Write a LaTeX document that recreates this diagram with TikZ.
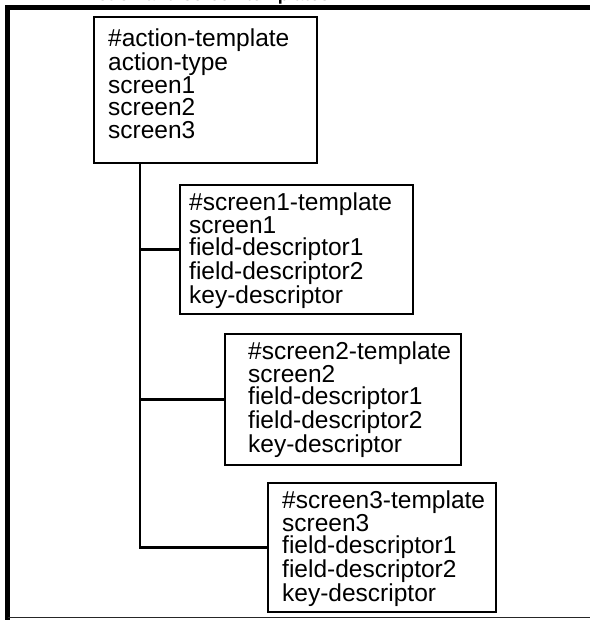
\documentclass[tikz,border=0pt]{standalone}
\usepackage{fontspec}
\setmainfont{Liberation Sans}
\usetikzlibrary{calc}
\begin{document}
\begin{tikzpicture}[x=1pt,y=-1pt,
  tbox/.style={draw, line width=2pt, inner sep=0pt, outer sep=0pt, anchor=north west},
  ttext/.style={anchor=north west, inner sep=0pt, align=left, font=\fontsize{24.5}{22.5}\selectfont},
  conn/.style={draw, line width=2.5pt},
  frame/.style={line width=5pt},
  hdrtext/.style={anchor=base east, inner sep=0pt, font=\bfseries\fontsize{18}{18}\selectfont}]
\useasboundingbox (0,0) rectangle (590,620);
\clip (0,0) rectangle (590,620);
% clipped header
\node[hdrtext] (hdr) at (330,1) {Action and screen templates};
% outer frame
\draw[frame] (7.5,620) -- (7.5,7.5) -- (590,7.5);
\draw[line width=1.5pt, black!85] (7.5,617.5) -- (590,617.5);
% boxes
\node[tbox, minimum width=223pt, minimum height=146pt] (act) at (94,17) {};
\node[tbox, minimum width=233pt, minimum height=129pt] (s1) at (180,185) {};
\node[tbox, minimum width=236pt, minimum height=131pt] (s2) at (225,334) {};
\node[tbox, minimum width=228pt, minimum height=129pt] (s3) at (268,483) {};
% texts
\node[ttext] (acttxt) at (108,29) {\#action-template\\action-type\\screen1\\screen2\\screen3};
\node[ttext] (s1txt) at (189,193) {\#screen1-template\\screen1\\field-descriptor1\\field-descriptor2\\key-descriptor};
\node[ttext] (s2txt) at (248,342) {\#screen2-template\\screen2\\field-descriptor1\\field-descriptor2\\key-descriptor};
\node[ttext] (s3txt) at (282,491) {\#screen3-template\\screen3\\field-descriptor1\\field-descriptor2\\key-descriptor};
% connectors
\coordinate (t0) at ($(act.south west)+(46,0)$);
\draw[conn] (t0) |- (s3.west);
\draw[conn] (s1.west -| t0) -- (s1.west);
\draw[conn] (s2.west -| t0) -- (s2.west);
\end{tikzpicture}
\end{document}
